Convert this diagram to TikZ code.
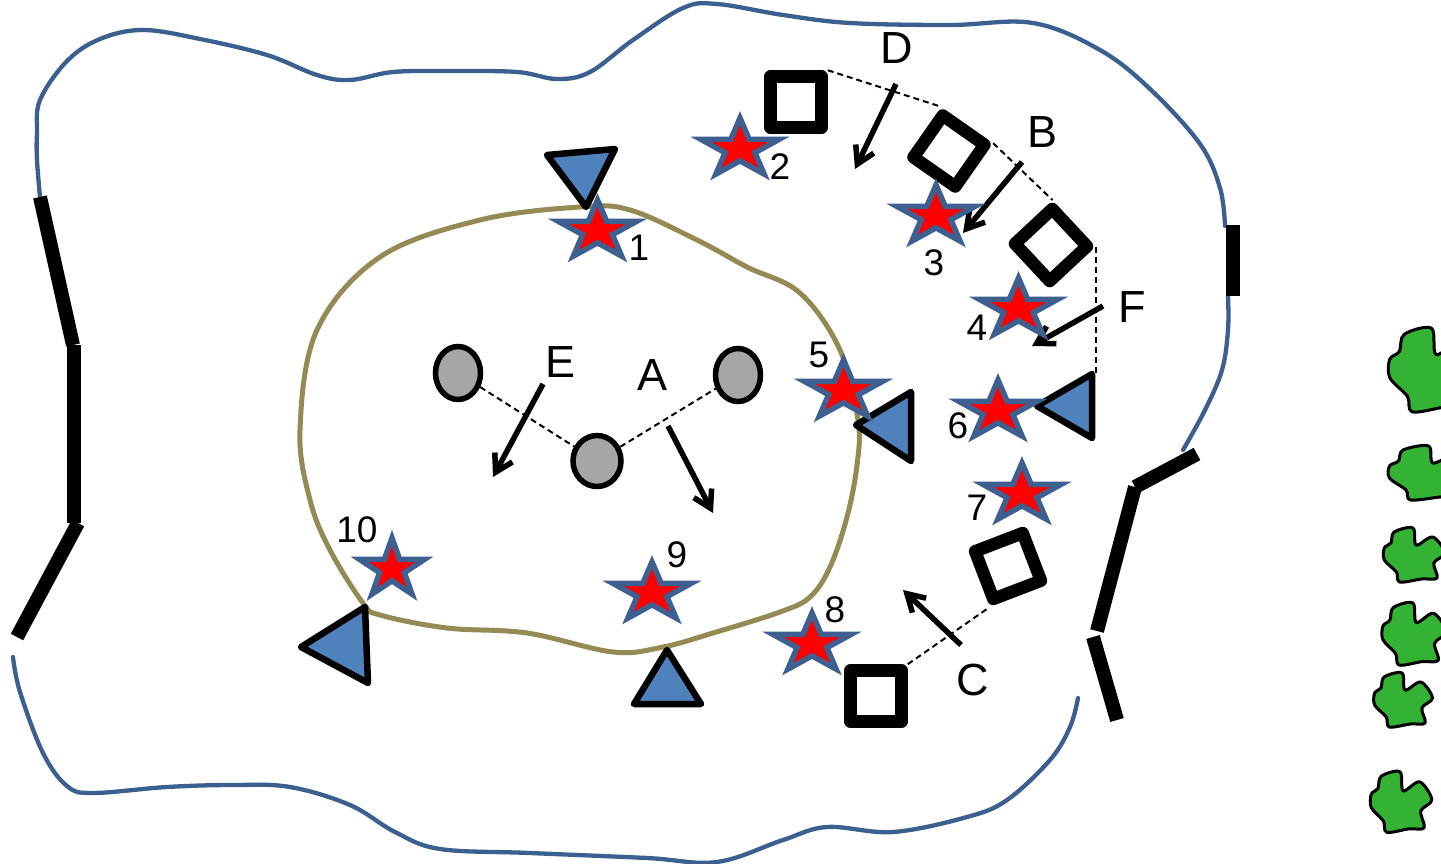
\documentclass[tikz,border=0pt]{standalone}
\usepackage{fontspec}
\setmainfont{Liberation Sans}
\usetikzlibrary{shapes.geometric,arrows.meta}
\definecolor{bnd}{RGB}{59,96,143}
\definecolor{olivec}{RGB}{148,138,84}
\definecolor{starline}{RGB}{62,96,145}
\definecolor{tric}{RGB}{79,129,189}
\definecolor{grayfill}{RGB}{166,166,166}
\definecolor{blobgreen}{RGB}{51,178,51}
\newcommand\rstar[4]{%
 \begin{scope}[shift={(#1,#2)},xscale=#3,yscale=#4]
 \draw[starsty] (0,-1)--(0.2245,-0.309)--(0.9511,-0.309)--(0.3633,0.118)--(0.5878,0.809)--(0,0.382)--(-0.5878,0.809)--(-0.3633,0.118)--(-0.9511,-0.309)--(-0.2245,-0.309)--cycle;
 \end{scope}}
\newcommand\greenblob[4]{%
 \begin{scope}[shift={(#1,#2)},xscale=#3,yscale=#4]
 \draw[blobsty] plot[smooth cycle, tension=0.55] coordinates {(-18,-23) (-1,-27) (2,-10) (17,-18) (28,-2) (18,8) (21,23) (7,24) (-13,27) (-16,17) (-27,5) (-27,-7) (-21,-12)};
 \end{scope}}
\begin{document}
\begin{tikzpicture}[x=1pt,y=-1pt,
  bline/.style={draw=bnd, line width=4.3pt, line cap=round},
  oline/.style={draw=olivec, line width=5pt},
  wallsty/.style={draw=black, line width=14pt},
  starsty/.style={draw=starline, fill=red, line width=5.5pt},
  tristy/.style={draw=black, fill=tric, line width=6.5pt, line join=round},
  ellsty/.style={ellipse, draw=black, fill=grayfill, line width=5.5pt, inner sep=0pt},
  sqsty/.style={rectangle, draw=black, fill=white, line width=12.5pt, line join=round, minimum size=51pt, inner sep=0pt},
  dsh/.style={draw=black, line width=2pt, dash pattern=on 6pt off 4pt},
  arrsty/.style={draw=black, line width=5.5pt, -{Straight Barb[length=17pt,width=20pt]}},
  blobsty/.style={draw=black, fill=blobgreen, line width=3pt, line join=round},
  labL/.style={font=\fontsize{45}{45}\selectfont, inner sep=0pt},
  labN/.style={font=\fontsize{37}{37}\selectfont, inner sep=0pt}]
\useasboundingbox (0,0) rectangle (1441,864);
\fill[white] (0,0) rectangle (1441,864);
% outer boundary
\draw[bline] plot[smooth, tension=0.6] coordinates {(40,197) (37,160) (37,133) (40,100) (67,61) (100,39) (143,30) (200,39) (267,55) (317,75) (350,80) (393,72) (450,71) (517,72) (557,79) (590,72) (633,40) (683,8) (717,4) (783,15) (850,23) (950,25) (1033,23) (1100,50) (1150,89) (1200,144) (1220,188) (1225,226)};
\draw[bline] plot[smooth, tension=0.6] coordinates {(1228,296) (1228,330) (1222,370) (1205,410) (1183,450)};
\draw[bline] plot[smooth, tension=0.6] coordinates {(1078,698) (1070,727) (1050,760) (1007,800) (967,817) (893,832) (827,827) (783,840) (717,862) (647,858) (530,853) (440,849) (395,832) (350,805) (290,787) (233,785) (167,787) (93,793) (67,786) (43,753) (20,692) (13,657)};
% inner boundary
\draw[oline] plot[smooth cycle, tension=0.6] coordinates {(580,207) (630,210) (697,240) (747,267) (800,293) (840,350) (858,420) (857,465) (847,517) (830,567) (810,597) (780,612) (713,633) (663,647) (613,652) (527,633) (447,628) (380,615) (363,603) (330,550) (310,500) (300,430) (317,330) (380,257) (480,220)};
% walls
\draw[wallsty] (40,197) -- (73,345);
\draw[wallsty] (74,345) -- (74,523);
\draw[wallsty] (78,523) -- (17,637);
\draw[wallsty] (1233,225) -- (1233,296);
\draw[wallsty] (1197,454) -- (1135,487);
\draw[wallsty] (1135,487) -- (1097,631);
\draw[wallsty] (1093,637) -- (1117,720);
% squares
\node[sqsty] (sqD) at (796,102) {};
\node[sqsty, rotate=-35] (sqB1) at (949,151) {};
\node[sqsty, rotate=-47] (sqB2) at (1051,245) {};
\node[sqsty, rotate=21] (sqC1) at (1008,566) {};
\node[sqsty] (sqC2) at (876,696) {};
% ellipses
\node[ellsty, minimum width=45pt, minimum height=53pt] (e1) at (458,373) {};
\node[ellsty, minimum width=45pt, minimum height=53pt] (e2) at (738,375) {};
\node[ellsty, minimum width=48pt, minimum height=51pt] (e3) at (597,461) {};
% triangles
\coordinate (t6top) at (1092,374);
\draw[tristy] (547,155) -- (615,149) -- (586,207) -- cycle;
\draw[tristy] (856,425) -- (911,392) -- (911,461) -- cycle;
\draw[tristy] (1037,406) -- (t6top) -- (1092,438) -- cycle;
\draw[tristy] (301,647) -- (365,607) -- (368,683) -- cycle;
\draw[tristy] (667,650) -- (634,704) -- (701,704) -- cycle;
% dashed connectors
\draw[dsh] (sqD.north east) -- (sqB1.north west);
\draw[dsh] (sqB1.north east) -- (sqB2.north west);
\draw[dsh] (sqB2.north east) -- (sqB2.north east |- t6top);
\draw[dsh] (sqC2.north east) -- (sqC1.south west);
\draw[dsh] (e1) -- (e3);
\draw[dsh] (e3) -- (e2);
% arrows
\coordinate (aEs) at (543,384); \coordinate (aEe) at (493,477);
\coordinate (aAs) at (668,426); \coordinate (aAe) at (713,513);
\coordinate (aDs) at (896,84);  \coordinate (aDe) at (855,169);
\coordinate (aBs) at (1022,162); \coordinate (aBe) at (963,233);
\coordinate (aFs) at (1103,306); \coordinate (aFe) at (1032,346);
\coordinate (aCs) at (961,645); \coordinate (aCe) at (903,590);
\draw[arrsty] (aEs) -- (aEe);
\draw[arrsty] (aAs) -- (aAe);
\draw[arrsty] (aDs) -- (aDe);
\draw[arrsty] (aBs) -- (aBe);
\draw[arrsty] (aFs) -- (aFe);
\draw[arrsty] (aCs) -- (aCe);
% stars
\rstar{597.5}{231}{41}{31}
\rstar{740}{149}{41}{31}
\rstar{936}{216}{41}{31}
\rstar{1018.5}{309}{41}{31}
\rstar{843.5}{391}{41}{31}
\rstar{998}{411}{41}{31}
\rstar{1022}{494}{41}{31}
\rstar{812}{644}{41}{31}
\rstar{652}{593}{41}{31}
\rstar{392}{569}{34}{31}
% labels
\node[labL] (lD) at (897,48) {D};
\node[labL] (lB) at (1042,132) {B};
\node[labL] (lF) at (1132,307) {F};
\node[labL] (lE) at (561,362) {E};
\node[labL] (lA) at (653,375) {A};
\node[labL] (lC) at (973,680) {C};
\node[labN] (n1) at (639,248) {1};
\node[labN] (n2) at (780,167) {2};
\node[labN] (n3) at (934,263) {3};
\node[labN] (n4) at (977,328) {4};
\node[labN] (n5) at (819,355) {5};
\node[labN] (n6) at (958,426) {6};
\node[labN] (n7) at (977,508) {7};
\node[labN] (n8) at (835,610) {8};
\node[labN] (n9) at (677,555) {9};
\node[labN] (n10) at (357,530) {10};
% green blobs
\begin{scope}
\clip (0,0) rectangle (1441,864);
\greenblob{1433}{370}{1.6}{1.55}
\greenblob{1430}{473}{1.5}{1.0}
\greenblob{1414}{555}{1.1}{1.0}
\greenblob{1414}{634}{1.15}{1.15}
\greenblob{1403}{700}{1.05}{1.0}
\greenblob{1401}{802}{1.1}{1.12}
\end{scope}
\end{tikzpicture}
\end{document}
